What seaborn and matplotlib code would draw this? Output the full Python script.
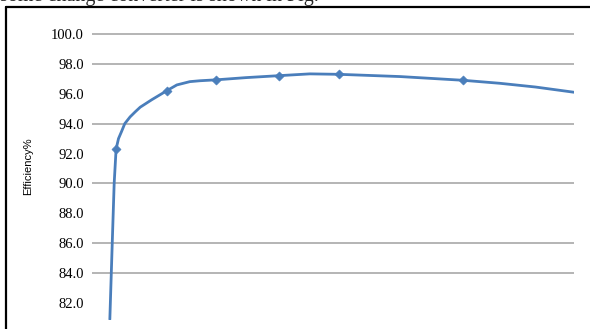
import numpy as np
import pandas as pd
import seaborn as sns
import matplotlib.pyplot as plt
from matplotlib.lines import Line2D

# load (% of full scale) and efficiency in %, visible markers
marker_load = [5.0, 15.5, 25.7, 38.8, 51.2, 77.0]
marker_eff = [92.3, 96.2, 96.93, 97.21, 97.3, 96.9]

# points (endpoints are clipped in the picture)
curve_load = [3.7, 4.2, 4.6, 5.0, 5.5, 6.1, 6.8, 7.9, 9.0, 10.0, 12.4, 15.5, 17.6,
              20.3, 22.4, 25.7, 32.0, 38.8, 45.2, 51.2, 63.9, 77.0, 84.6, 92.0, 100.0]
curve_eff = [80.9, 86.0, 90.0, 92.3, 93.0, 93.45, 94.0, 94.45, 94.8, 95.1, 95.6, 96.2, 96.59,
             96.81, 96.87, 96.93, 97.08, 97.21, 97.33, 97.3, 97.15, 96.9, 96.7, 96.45, 96.1]

y_ticks = [82, 84, 86, 88, 90, 92, 94, 96, 98, 100]
grid_lines = [84, 86, 90, 94, 98, 100]

sns.set_style("white")
plt.rcParams['font.family'] = ['Liberation Serif', 'DejaVu Serif']

fig = plt.figure(figsize=(5.9, 3.29), dpi=100)
ax = fig.add_axes([92 / 590, 9 / 329, 482 / 590, 308 / 329])

blue = "#4a7ebb"
for g in grid_lines:
    ax.axhline(g, color="#a0a0a0", lw=1.1, zorder=1)

curve = pd.DataFrame({"load": curve_load, "eff": curve_eff})
pts = pd.DataFrame({"load": marker_load, "eff": marker_eff})
sns.lineplot(data=curve, x="load", y="eff", sort=False, color=blue, lw=2.0, ax=ax, zorder=3)
sns.scatterplot(data=pts, x="load", y="eff", marker="D", s=22, color=blue,
                edgecolor=blue, ax=ax, zorder=4)

ax.set_xlim(0, 100)
ax.set_ylim(80.86, 101.47)
ax.set_yticks(y_ticks)
ax.set_yticklabels([f"{v:.1f}" for v in y_ticks], fontsize=10.5)
ax.tick_params(axis="y", length=0, pad=6, labelcolor="black")
ax.set_xticks([])
ax.set_xlabel("")
ax.set_ylabel("Efficiency%", family=["Liberation Sans", "DejaVu Sans"], fontsize=8,
              color="black", labelpad=13)
for s in ax.spines.values():
    s.set_visible(False)

# page frame and the clipped caption line of the scanned page
fig.add_artist(Line2D([6 / 590, 6 / 590], [0, 1 - 7 / 329], color="black", lw=1.6,
                      transform=fig.transFigure))
fig.add_artist(Line2D([6 / 590, 1], [1 - 7 / 329, 1 - 7 / 329], color="black", lw=1.6,
                      transform=fig.transFigure))
fig.text(0.0, 1 - 1.5 / 329, "some change converter is shown in Fig.", fontsize=14.5,
         va="baseline", ha="left")

fig.savefig("out.png", dpi=100)
